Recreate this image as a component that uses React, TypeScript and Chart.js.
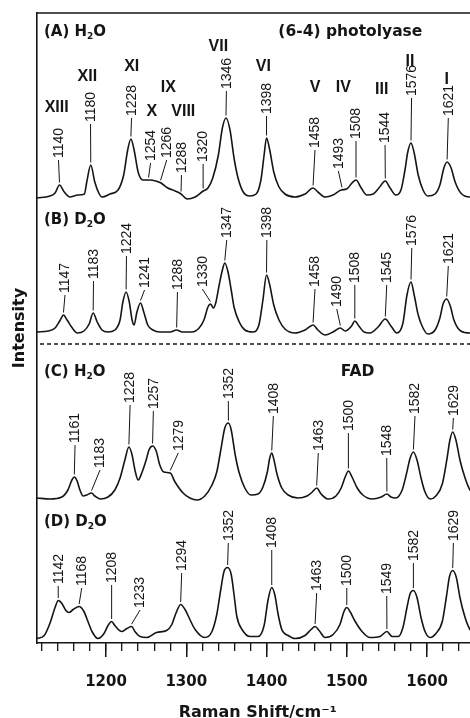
import React, { useEffect, useRef } from "react";
import { Chart, registerables } from "chart.js";

Chart.register(...registerables);

// ---------- axis range ----------
const X_MIN = 1114;
const X_MAX = 1664;
const Y_MAX = 630;
const majorStep = 100;
const minorStep = 20;

// ---------- spectra: [Raman shift (cm-1), intensity above own baseline] ----------
const spectrumA: [number, number][] = [
  [1114, -1], [1130, 1], [1136.5, 4], [1142, 12], [1148, 5], [1155, 0], [1165, 2], [1173, 3],
  [1176, 15], [1181, 32], [1186, 15], [1191, 4], [1195, 0], [1205, 3], [1215, 7], [1222, 22],
  [1227, 47], [1231, 58], [1235, 47], [1240, 25], [1246, 17], [1255, 17], [1262, 16], [1268.5, 14],
  [1277, 9], [1286, 6], [1293.5, 3], [1301, -2], [1311, 0], [1321, 6], [1327, 9], [1333, 19],
  [1340, 42], [1345, 69], [1349.5, 79], [1354.5, 67], [1359.5, 39], [1364.5, 19], [1371, 5],
  [1379, 1], [1387, 3], [1393, 17], [1397, 42], [1400, 59], [1404, 47], [1409, 25], [1415.5, 10],
  [1423, 3], [1435.5, 0], [1448, 3], [1458, 9], [1464, 5], [1473, 0], [1483, 2], [1493, 7],
  [1500, 8], [1506.5, 14], [1511.5, 17], [1518, 9], [1525, 2], [1533, 3], [1540, 9], [1548, 16],
  [1554, 9], [1561, 2], [1567.5, 7], [1572.5, 27], [1576, 45], [1580, 54], [1584, 44], [1589, 22],
  [1595, 7], [1601, 1], [1610, 3], [1616, 12], [1621, 29], [1625, 35], [1630, 29], [1635, 15],
  [1642, 4], [1653.5, 0], [1664, 0],
];

const spectrumB: [number, number][] = [
  [1114, 0], [1128, 1], [1136.5, 4], [1143, 12], [1147, 17], [1151.5, 12], [1158, 4], [1164, -1],
  [1172.5, 1], [1179, 8], [1184, 19], [1189, 10], [1195, 2], [1202.5, 0], [1211, 2], [1217.5, 12],
  [1221, 30], [1225, 40], [1229, 30], [1232.5, 12], [1235, 7], [1238.5, 20], [1243, 29], [1247, 20],
  [1252, 7], [1258.5, 2], [1267, 0], [1280, 0], [1288, 2], [1295, 0], [1307, 0], [1316, 4],
  [1322, 12], [1327, 25], [1330, 28], [1334, 24], [1337, 30], [1341, 47], [1345, 62], [1348, 69],
  [1352, 60], [1356, 42], [1359.5, 25], [1366, 10], [1373, 2], [1383, 0], [1390.5, 7], [1395.5, 32],
  [1400, 57], [1404, 47], [1409, 27], [1415.5, 12], [1423, 3], [1435.5, -1], [1448, 2], [1458, 7],
  [1464, 2], [1473, -3], [1483, 0], [1492, 4], [1498, 1], [1506, 6], [1510, 11], [1515, 6],
  [1521.5, 0], [1529, -1], [1539, 5], [1548, 13], [1555, 6], [1562.5, -1], [1570, 9], [1575, 37],
  [1580, 50], [1584, 37], [1589, 17], [1595, 4], [1601, -2], [1610, 2], [1616, 14], [1620, 28],
  [1624.5, 33], [1629, 26], [1633.5, 12], [1642, 1], [1653.5, -1], [1664, -1],
];

const spectrumC: [number, number][] = [
  [1114, 1], [1130, 0], [1145, 2], [1152.5, 9], [1157.5, 19], [1160.5, 22], [1164, 18], [1167.5, 9],
  [1171.5, 3], [1176, 4], [1182, 6], [1186, 3], [1192.5, 0], [1202.5, 2], [1211, 9], [1217.5, 21],
  [1223.5, 39], [1228.5, 52], [1232.5, 44], [1236, 29], [1240, 19], [1245, 27], [1250, 39],
  [1253.5, 49], [1258, 53], [1262.5, 48], [1267, 34], [1272, 27], [1280, 26], [1286, 17], [1296, 6],
  [1304.5, 1], [1313.5, -1], [1323, 3], [1332, 14], [1338, 27], [1343, 49], [1348, 71], [1352.5, 76],
  [1356, 69], [1361, 44], [1366, 26], [1373, 11], [1380.5, 4], [1389.5, 5], [1395.5, 12], [1401, 27],
  [1404, 41], [1406.5, 46], [1409, 40], [1413, 25], [1419, 11], [1427, 4], [1439, 1], [1450.5, 3],
  [1457, 7], [1462.5, 11], [1468, 5], [1476.5, 0], [1486.5, 3], [1493, 11], [1498, 22], [1502, 28],
  [1506.5, 22], [1513, 11], [1520, 4], [1531.5, 0], [1543, 2], [1550, 5], [1555, 2], [1561, 1],
  [1569, 9], [1574, 24], [1579, 41], [1583, 47], [1587.5, 39], [1592.5, 21], [1597.5, 7], [1604, 0],
  [1611, 3], [1619, 15], [1625, 41], [1628.5, 59], [1632, 67], [1636, 59], [1641, 39], [1647, 22],
  [1653.5, 9], [1664, 3],
];

const spectrumD: [number, number][] = [
  [1114, 0], [1123, 3], [1130, 15], [1136.5, 31], [1140.5, 38], [1145, 35], [1150, 28], [1154, 26],
  [1159, 29], [1166.5, 32], [1172.5, 27], [1177.5, 17], [1182.5, 7], [1190, 0], [1197.5, 5],
  [1202.5, 13], [1207, 17], [1211, 13], [1219.5, 7], [1226, 10], [1232, 12], [1236, 7], [1242.5, 2],
  [1251, 1], [1263, 6], [1275.5, 8], [1282, 14], [1287, 25], [1293, 34], [1298.5, 29], [1304.5, 19],
  [1311, 9], [1323, 1], [1332, 7], [1338, 24], [1343, 49], [1347, 67], [1351.5, 71], [1356, 64],
  [1359.5, 44], [1363, 22], [1369.5, 9], [1379.5, 2], [1389.5, 2], [1397, 13], [1402, 39],
  [1406.5, 51], [1410.5, 43], [1414.5, 24], [1419, 9], [1427, 3], [1435.5, 0], [1448, 3],
  [1455.5, 9], [1460.5, 12], [1465.5, 8], [1473, 1], [1483, 4], [1491.5, 14], [1496.5, 27],
  [1500, 31], [1504, 27], [1510.5, 17], [1519, 7], [1529, 1], [1541.5, 2], [1550, 7], [1556.5, 2],
  [1564, 2], [1570, 11], [1575, 31], [1579, 45], [1583, 48], [1587.5, 41], [1592.5, 21], [1597.5, 7],
  [1604, 1], [1611, 5], [1619, 17], [1624, 41], [1628, 62], [1632, 68], [1636.5, 61], [1641, 41],
  [1647, 22], [1653.5, 9], [1664, 3],
];

// baselines of the stacked traces (same units as the y scale)
const traceBaselines = [446, 311, 144, 4.5];

// ---------- peak labels ----------
const peakLabelsA = ["1140", "1180", "1228", "1254", "1266", "1288", "1320", "1346", "1398", "1458", "1493", "1508", "1544", "1576", "1621"];
const peakLabelsB = ["1147", "1183", "1224", "1241", "1288", "1330", "1347", "1398", "1458", "1490", "1508", "1545", "1576", "1621"];
const peakLabelsC = ["1161", "1183", "1228", "1257", "1279", "1352", "1408", "1463", "1500", "1548", "1582", "1629"];
const peakLabelsD = ["1142", "1168", "1208", "1233", "1294", "1352", "1408", "1463", "1500", "1549", "1582", "1629"];

// label placement: [text x (cm-1), text start (y units), leader tip x (cm-1)]
const labelPlaceA: [number, number, number][] = [
  [1140.8, 485, 1142], [1180.7, 521, 1181], [1231.8, 527, 1231], [1255.5, 482, 1253],
  [1275.6, 485, 1268], [1294, 470, 1293.5], [1321, 481, 1321], [1350, 554, 1349.5],
  [1400, 529, 1400], [1460.4, 495, 1458], [1489.5, 474, 1494], [1511.5, 504, 1511.5],
  [1547.7, 500, 1548], [1580.7, 547, 1580], [1626.5, 527, 1625],
];
const labelPlaceB: [number, number, number][] = [
  [1148.9, 350, 1147], [1184.4, 364, 1184], [1225.5, 389, 1225], [1248, 355, 1243],
  [1289, 353, 1288], [1320, 356, 1330], [1350.4, 405, 1348], [1400.4, 405, 1400],
  [1460.4, 356, 1458], [1487.5, 336, 1492], [1510, 360, 1510], [1549.8, 360, 1548],
  [1581, 397, 1580], [1626.5, 379, 1624.5],
];
const labelPlaceC: [number, number, number][] = [
  [1161.4, 200, 1160.5], [1192.5, 175, 1182], [1230, 240, 1228.5], [1259, 234, 1258],
  [1290, 192, 1280], [1352.4, 244, 1352.5], [1408.5, 229, 1406.5], [1464.5, 192, 1462.5],
  [1502, 212, 1502], [1549.8, 187, 1550], [1585, 229, 1583], [1632.8, 227, 1632],
];
const labelPlaceD: [number, number, number][] = [
  [1140.4, 59, 1140.5], [1169.7, 57, 1166.5], [1207, 60, 1207], [1242.4, 35, 1232],
  [1294.3, 72, 1293], [1352.4, 102, 1351.5], [1406.5, 95, 1406.5], [1462.5, 52, 1460.5],
  [1500, 57, 1500], [1549.8, 49, 1550], [1583, 82, 1583], [1632.8, 102, 1632],
];

// band numbering of panel A
const bandNames = ["XIII", "XII", "XI", "X", "IX", "VIII", "VII", "VI", "V", "IV", "III", "II", "I"];
const bandNamePlace: [number, number][] = [
  [1138.5, 535], [1176.7, 566], [1232, 576], [1257, 531], [1277.6, 555], [1296.3, 531],
  [1340, 596], [1396, 576], [1460.4, 555], [1495.7, 555], [1543.5, 553], [1578.8, 581], [1624.5, 563],
];

// panel captions: [prefix, subscript, suffix]
const panelCaptions: [string, string, string][] = [
  ["(A) H", "2", "O"],
  ["(B) D", "2", "O"],
  ["(C) H", "2", "O"],
  ["(D) D", "2", "O"],
];
const panelCaptionPlace: [number, number][] = [
  [1122.7, 611], [1122.7, 423], [1122.7, 271], [1122.7, 121],
];
const sampleNames = ["(6-4) photolyase", "FAD"];
const sampleNamePlace: [number, number, string][] = [
  [1414.7, 611, "left"], [1513.4, 271, "center"],
];
const separatorY = 299;

const spectra = [spectrumA, spectrumB, spectrumC, spectrumD];
const peakLabels = [peakLabelsA, peakLabelsB, peakLabelsC, peakLabelsD];
const labelPlaces = [labelPlaceA, labelPlaceB, labelPlaceC, labelPlaceD];

const INK = "#151515";

function valueAt(spec: [number, number][], cm: number): number {
  for (let i = 0; i < spec.length - 1; i++) {
    const [x0, y0] = spec[i];
    const [x1, y1] = spec[i + 1];
    if (cm >= x0 && cm <= x1) {
      const t = (cm - x0) / (x1 - x0 || 1);
      return y0 + t * (y1 - y0);
    }
  }
  return 0;
}

const annotationPlugin = {
  id: "annotations",
  afterDraw(chart: any) {
    const { ctx, chartArea } = chart;
    const xs = chart.scales.x;
    const ys = chart.scales.y;
    ctx.save();
    ctx.strokeStyle = INK;
    ctx.fillStyle = INK;

    // top frame line
    ctx.lineWidth = 1.5;
    ctx.beginPath();
    ctx.moveTo(chartArea.left, chartArea.top);
    ctx.lineTo(chartArea.right, chartArea.top);
    ctx.stroke();

    // dashed separator
    ctx.setLineDash([4, 3]);
    ctx.lineWidth = 1.6;
    const sy = ys.getPixelForValue(separatorY);
    ctx.beginPath();
    ctx.moveTo(chartArea.left + 3, sy);
    ctx.lineTo(chartArea.right, sy);
    ctx.stroke();
    ctx.setLineDash([]);

    // peak labels with leaders
    ctx.lineWidth = 1;
    ctx.font = '14px "Liberation Sans", Arial, sans-serif';
    ctx.textAlign = "left";
    ctx.textBaseline = "middle";
    spectra.forEach((spec, si) => {
      const base = traceBaselines[si];
      peakLabels[si].forEach((txt, li) => {
        const [tcm, tY, tipCm] = labelPlaces[si][li];
        const tx = xs.getPixelForValue(tcm);
        const ty = ys.getPixelForValue(tY);
        const px = xs.getPixelForValue(tipCm);
        const py = ys.getPixelForValue(base + valueAt(spec, tipCm)) - 2.5;
        ctx.beginPath();
        ctx.moveTo(px, py);
        ctx.lineTo(tx, ty + 2);
        ctx.stroke();
        ctx.save();
        ctx.translate(tx + 0.5, ty);
        ctx.rotate(-Math.PI / 2);
        ctx.fillText(txt, 0, 0);
        ctx.restore();
      });
    });

    // band numbers
    ctx.font = 'bold 16px "Liberation Sans", Arial, sans-serif';
    ctx.textAlign = "center";
    bandNames.forEach((nm, i) => {
      const [c, y] = bandNamePlace[i];
      ctx.fillText(nm, xs.getPixelForValue(c), ys.getPixelForValue(y));
    });

    // panel captions
    const size = 15;
    ctx.textAlign = "left";
    panelCaptions.forEach((parts, i) => {
      const [c, y] = panelCaptionPlace[i];
      let cx = xs.getPixelForValue(c);
      const cy = ys.getPixelForValue(y);
      ctx.font = `bold ${size}px "DejaVu Sans", sans-serif`;
      ctx.fillText(parts[0], cx, cy);
      cx += ctx.measureText(parts[0]).width;
      ctx.font = `bold ${Math.round(size * 0.62)}px "DejaVu Sans", sans-serif`;
      ctx.fillText(parts[1], cx, cy + 5);
      cx += ctx.measureText(parts[1]).width;
      ctx.font = `bold ${size}px "DejaVu Sans", sans-serif`;
      ctx.fillText(parts[2], cx, cy);
    });
    sampleNames.forEach((nm, i) => {
      const [c, y, al] = sampleNamePlace[i];
      ctx.font = `bold 15.5px "DejaVu Sans", sans-serif`;
      ctx.textAlign = al as CanvasTextAlign;
      ctx.fillText(nm, xs.getPixelForValue(c), ys.getPixelForValue(y));
    });
    ctx.restore();
  },
};

export default function App() {
  const canvasRef = useRef<HTMLCanvasElement | null>(null);

  useEffect(() => {
    document.body.style.margin = "0";
    const canvas = canvasRef.current;
    if (!canvas) return;
    const datasets = spectra.map((spec, i) => ({
      data: spec.map(([c, h]) => ({ x: c, y: traceBaselines[i] + h })),
      borderColor: INK,
      borderWidth: 1.6,
      pointRadius: 0,
      fill: false,
      tension: 0.4,
      cubicInterpolationMode: "monotone" as const,
    }));
    const chart = new Chart(canvas, {
      type: "line",
      data: { datasets },
      options: {
        responsive: false,
        animation: false,
        devicePixelRatio: 1,
        layout: { padding: { top: 13, right: 1.6, left: 0, bottom: 0 } },
        plugins: { legend: { display: false }, tooltip: { enabled: false } },
        scales: {
          x2: {
            type: "linear",
            position: "bottom",
            weight: 0,
            min: X_MIN,
            max: X_MAX,
            ticks: { display: false, stepSize: minorStep, includeBounds: false },
            grid: { drawOnChartArea: false, tickLength: 8, color: INK, lineWidth: 1.3 },
            border: { display: false },
            afterFit: (s: any) => { s.height = 0; },
          },
          x: {
            type: "linear",
            position: "bottom",
            weight: 1,
            min: X_MIN,
            max: X_MAX,
            ticks: {
              stepSize: majorStep,
              includeBounds: false,
              padding: 16,
              color: INK,
              font: { family: '"DejaVu Sans", sans-serif', size: 15, weight: "bold" },
              callback: (v: any) => String(v),
            },
            grid: { drawOnChartArea: false, tickLength: 14, color: INK, lineWidth: 1.5 },
            border: { display: true, color: INK, width: 1.6 },
            title: {
              display: true,
              text: "Raman Shift/cm\u207B\u00B9",
              color: INK,
              padding: { top: 0, bottom: 0 },
              font: { family: '"DejaVu Sans", sans-serif', size: 16, weight: "bold", lineHeight: 1.2 },
            },
            afterFit: (s: any) => { s.height = 79; },
          },
          y: {
            type: "linear",
            min: 0,
            max: Y_MAX,
            ticks: { display: false },
            grid: { display: false },
            border: { display: true, color: INK, width: 1.6 },
            title: {
              display: true,
              text: "Intensity",
              color: INK,
              padding: { top: 10, bottom: 0 },
              font: { family: '"DejaVu Sans", sans-serif', size: 16, weight: "bold" },
            },
            afterFit: (s: any) => { s.width = 37; },
          },
        },
      },
      plugins: [annotationPlugin],
    } as any);
    return () => chart.destroy();
  }, []);

  return (
    <div style={{ width: 470, height: 718, overflow: "hidden", background: "#fff" }}>
      <canvas ref={canvasRef} width={480} height={722} style={{ display: "block" }} />
    </div>
  );
}
